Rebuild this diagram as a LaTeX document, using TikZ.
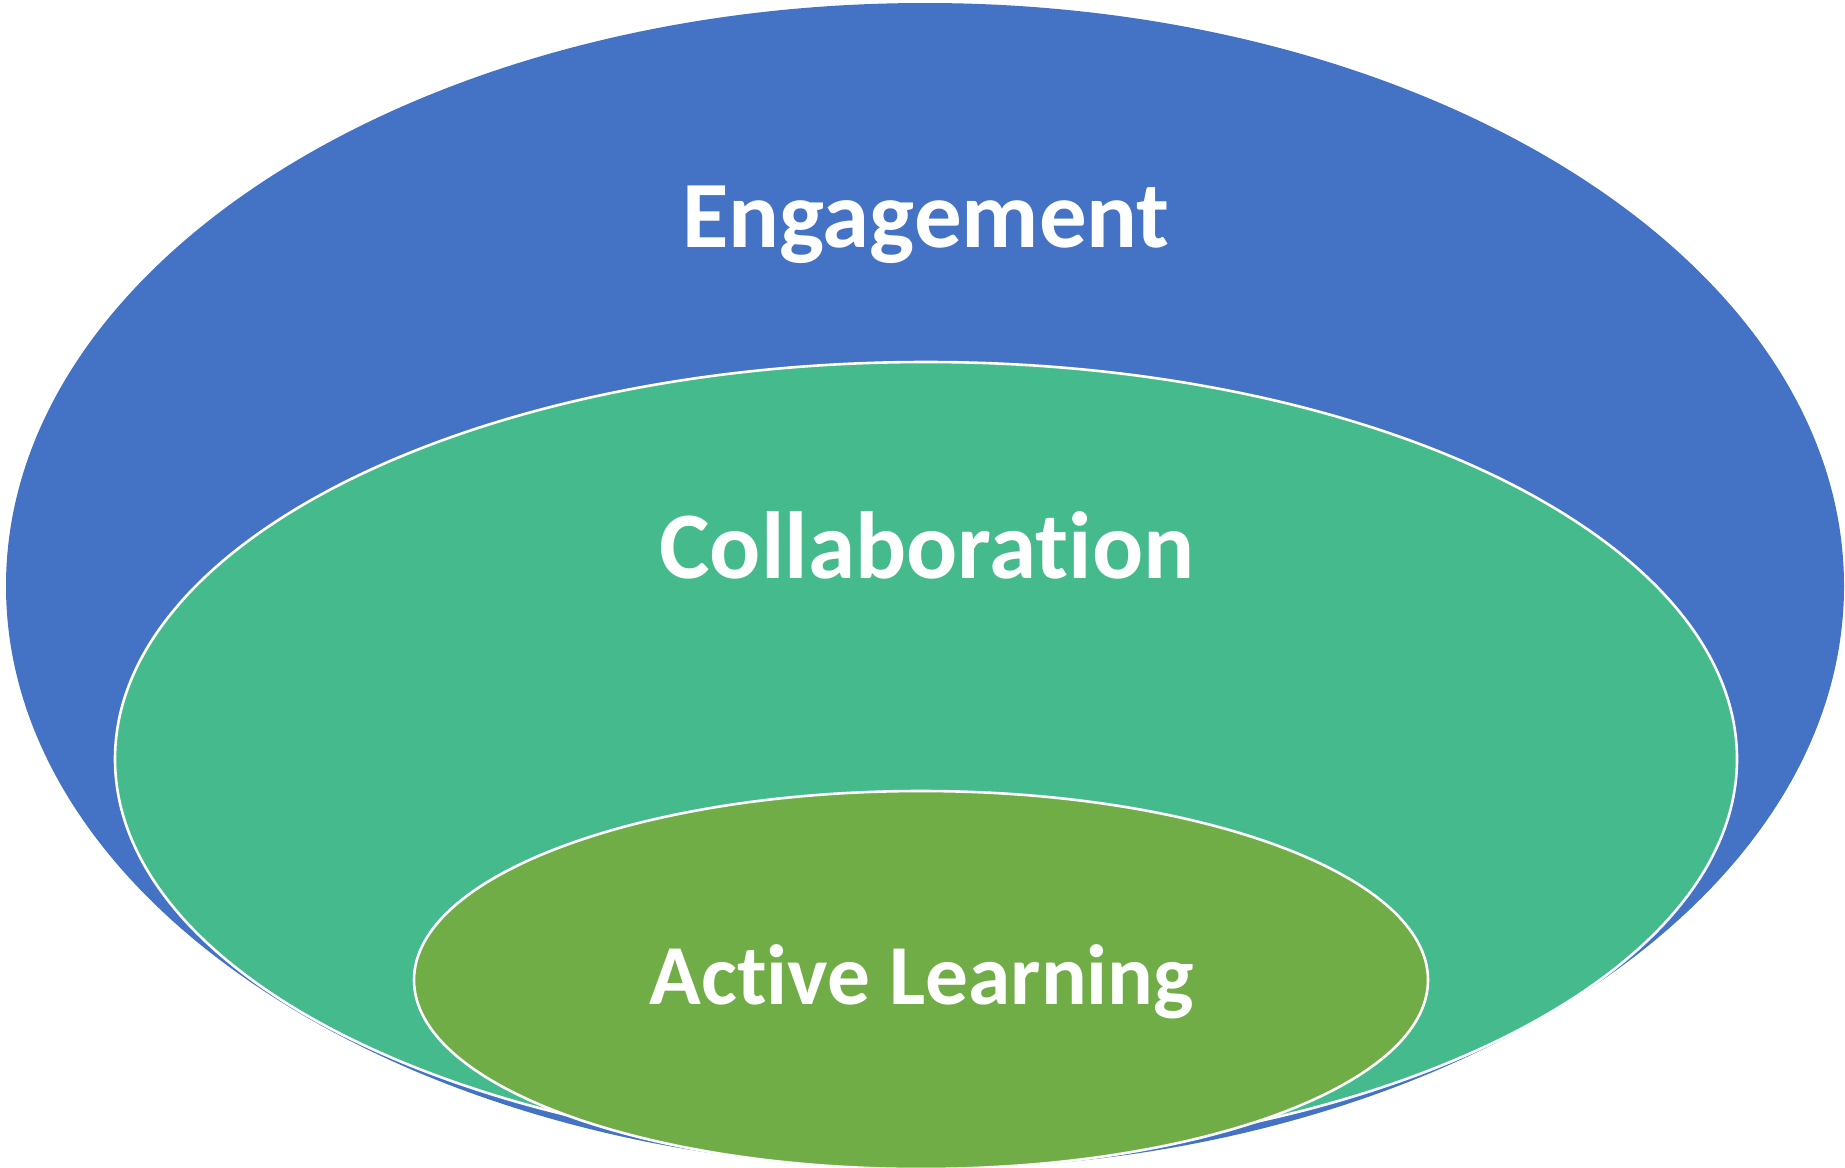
\documentclass[tikz,border=0pt]{standalone}
\usepackage{fontspec}
\setmainfont{Carlito}[Ligatures=NoCommon]
\definecolor{engblue}{HTML}{4472C4}
\definecolor{colgreen}{HTML}{44BA8D}
\definecolor{actgreen}{HTML}{70AD47}
\begin{document}
\begin{tikzpicture}[x=0.5pt,y=-0.5pt,
  ring/.style={draw=white,line width=1.3pt},
  lbl/.style={text=white,anchor=base,inner sep=0pt}]
\useasboundingbox (0,0) rectangle (1845,1167);
\clip (0,0) rectangle (1845,1167);
\fill[engblue] (925,586) ellipse [x radius=919, y radius=583];
\fill[colgreen,ring] (926,759) ellipse [x radius=811, y radius=397];
\fill[actgreen,ring] (921,980) ellipse [x radius=507, y radius=189];
\node[lbl,font=\fontsize{47.5pt}{57pt}\selectfont\bfseries] (engage) at (926,247) {Engagement};
\node[lbl,font=\fontsize{47.7pt}{57pt}\selectfont\bfseries] (collab) at (927,578) {Collaboration};
\node[lbl,font=\fontsize{42.7pt}{51pt}\selectfont\bfseries] (active) at (922,1004) {Active Learning};
\end{tikzpicture}
\end{document}
